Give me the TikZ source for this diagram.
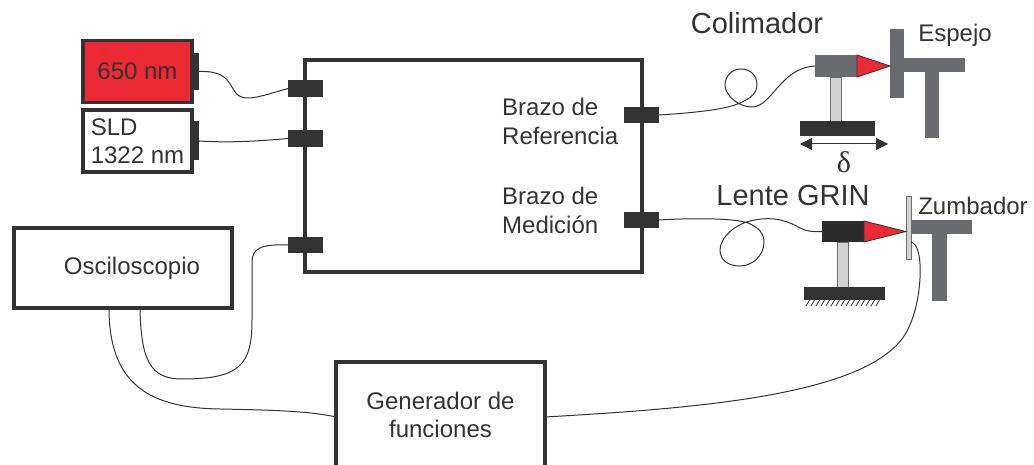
\documentclass[tikz,border=0pt]{standalone}
\usepackage{fontspec}
\setmainfont{Liberation Sans}
\newfontfamily\deltafont{Liberation Serif}
\usetikzlibrary{arrows.meta, positioning, shapes}

\definecolor{inkGray}{HTML}{333333}
\definecolor{steelGray}{HTML}{6A6B6E}
\definecolor{postGray}{HTML}{D2D2D2}
\definecolor{laserRed}{HTML}{EC2A33}

\begin{document}
\begin{tikzpicture}[
    x=1pt,
    y=-1pt,
    frame/.style = {
        draw=inkGray,
        rectangle,
        line width=3.3pt,
        inner sep=0pt,
        outer sep=0pt,
        text=inkGray,
        align=center,
    },
    block/.style = {
        draw=none,
        fill=inkGray,
        rectangle,
        inner sep=0pt,
        outer sep=0pt,
    },
    port/.style = {
        block,
        minimum width=35pt,
        minimum height=16.5pt,
    },
    tab/.style = {
        block,
        minimum width=7pt,
    },
    steel/.style = {
        block,
        fill=steelGray,
    },
    post/.style = {
        draw=steelGray,
        fill=postGray,
        line width=0.8pt,
        rectangle,
        inner sep=0pt,
        outer sep=0pt,
    },
    cone/.style = {
        draw=inkGray,
        fill=laserRed,
        line width=0.8pt,
    },
    fiber/.style = {
        draw=inkGray,
        line width=1pt,
    },
    caption/.style = {
        text=inkGray,
        inner sep=0pt,
        font=\fontsize{24}{29}\selectfont,
        align=left,
    },
    bigCaption/.style = {
        caption,
        font=\fontsize{29}{32}\selectfont,
    },
    every node/.append style = {
        font=\fontsize{24}{28.5}\selectfont,
    },
]

\useasboundingbox (0,0) rectangle (1034,465);

% sources
\node(Red Laser)[frame, fill=laserRed, minimum width=109pt, minimum height=62pt] at (137.5,71.5) {650 nm};
\node(Red Tab)[tab, minimum height=37pt, right=0pt of Red Laser] {};
\node(SLD)[frame, fill=white, align=left, minimum width=109pt, minimum height=62pt] at (137.5,141) {SLD\\1322 nm};
\node(SLD Tab)[tab, minimum height=39pt, right=0pt of SLD] {};

% interferometer
\node(Interferometer)[frame, minimum width=337pt, minimum height=212pt] at (473.5,166) {};
\node(Port Red)[port] at (305.5,88.5) {};
\node(Port SLD)[port] at (305.5,138.5) {};
\node(Port Scope)[port] at (305.5,245) {};
\node(Port Reference)[port] at (641.5,115) {};
\node(Port Measure)[port] at (641.5,220) {};
\node(Reference Label)[caption, anchor=west] at (502,121.5) {Brazo de\\Referencia};
\node(Measure Label)[caption, anchor=west] at (502,210) {Brazo de\\Medición};

% instruments
\node(Scope)[frame, minimum width=218pt, minimum height=80pt] at (123,268) {\hspace*{18pt}Osciloscopio};
\node(Generator)[frame, minimum width=209pt, minimum height=106pt] at (440.5,415) {Generador de\\funciones};

% reference arm
\node(Reference Body)[steel, minimum width=42pt, minimum height=22pt] at (836,66) {};
\node(Reference Post)[post, minimum width=11pt, minimum height=44pt, below=0pt of Reference Body] {};
\node(Reference Base)[block, minimum width=75pt, minimum height=15pt, below=0pt of Reference Post, xshift=1.5pt] {};
\node(Mirror)[steel, minimum width=14pt, minimum height=69pt] at (897,63.5) {};
\node(Mirror Arm)[steel, minimum width=61pt, minimum height=14pt, anchor=west] at (Mirror.east |- 0,65) {};
\node(Mirror Stem)[steel, minimum width=14pt, minimum height=66pt, anchor=north] at (932,72) {};
\draw[cone] (Reference Body.north east) -- (Mirror.west |- Reference Body.east) -- (Reference Body.south east) -- cycle;
\coordinate(Delta Left) at (800,144);
\coordinate(Delta Right) at (888,144);
\draw[draw=inkGray, line width=1pt, {Stealth[length=12pt, width=12pt, inset=0pt]}-{Stealth[length=12pt, width=12pt, inset=0pt]}] (Delta Left) -- (Delta Right);
\node(Delta)[text=inkGray, inner sep=0pt, font=\deltafont\fontsize{30}{32}\selectfont] at (844,162) {δ};
\node(Colimador)[bigCaption] at (757,23) {Colimador};
\node(Espejo)[caption] at (955,35) {Espejo};

% measuring arm
\node(Measure Body)[block, fill=inkGray!85!black, minimum width=42pt, minimum height=21pt] at (843,231.5) {};
\node(Measure Post)[post, minimum width=11pt, minimum height=45pt, below=0pt of Measure Body] {};
\node(Measure Base)[block, minimum width=81pt, minimum height=13pt, below=0pt of Measure Post, xshift=1pt] {};
\node(Buzzer Plate)[post, minimum width=5pt, minimum height=63pt] at (908.5,227.5) {};
\node(Buzzer Arm)[steel, minimum width=61pt, minimum height=14pt, anchor=west] at (Buzzer Plate.east |- 0,227) {};
\node(Buzzer Stem)[steel, minimum width=15pt, minimum height=67pt, anchor=north] at (939.5,234) {};
\draw[cone] (Measure Body.north east) -- (Buzzer Plate.west |- Measure Body.east) -- (Measure Body.south east) -- cycle;
\foreach \hatchX in {806,811,...,876}
    \draw[draw=inkGray, line width=0.8pt] (\hatchX,306) -- ++(3.5,-6);
\node(Lente)[bigCaption] at (793,196) {Lente GRIN};
\node(Zumbador)[caption] at (973,206) {Zumbador};

% fibers
\draw[fiber] (Red Tab.east) .. controls (240,70) and (225,98) .. (248,98)
    .. controls (258,98) and (275,92) .. (Port Red.west);
\draw[fiber] (SLD Tab.east) .. controls (230,143) and (260,141) .. (Port SLD.west);
\draw[fiber] (Port Reference.east) .. controls (690,113) and (725,110) .. (740,103)
    .. controls (752,98) and (757,92) .. (757,85)
    .. controls (757,75) and (750,69) .. (741,69)
    .. controls (732,69) and (725,76) .. (725,85)
    .. controls (725,95) and (738,107) .. (752,107)
    .. controls (772,107) and (780,68) .. (Reference Body.west);
\draw[fiber] (Port Measure.east) .. controls (690,218) and (735,218) .. (748,223)
    .. controls (758,227) and (764,233) .. (764,242)
    .. controls (764,256) and (752,266) .. (740,266)
    .. controls (728,266) and (720,260) .. (720,250)
    .. controls (720,238) and (735,223) .. (755,220)
    .. controls (775,216) and (790,222) .. (800,228)
    .. controls (806,231) and (812,232) .. (Measure Body.west);
\draw[fiber] ([xshift=17pt]Scope.south) .. controls (141,360) and (150,379) .. (182,379)
    .. controls (240,379) and (252,365) .. (252,320)
    -- (252,262) .. controls (252,248) and (262,244) .. (Port Scope.west);
\draw[fiber] ([xshift=-14pt]Scope.south) .. controls (109,385) and (150,408) .. (220,409)
    .. controls (270,410) and (310,411) .. ([yshift=-2pt]Generator.west);
\draw[fiber] ([yshift=-2pt]Generator.east) .. controls (700,408) and (880,395) .. (909,327)
    .. controls (922,300) and (925,245) .. (Buzzer Plate.east |- 0,242);

\end{tikzpicture}
\end{document}
